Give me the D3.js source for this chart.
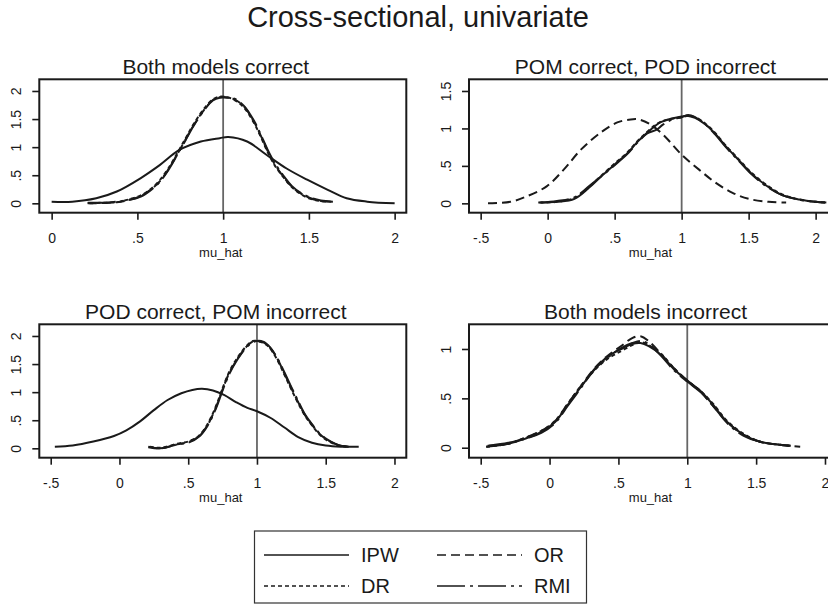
<!DOCTYPE html>
<html>
<head>
<meta charset="utf-8">
<script src="https://cdn.jsdelivr.net/npm/d3@7"></script>
<style>
  body { margin: 0; background: #fff; }
  text { font-family: "Liberation Sans", Arial, sans-serif; fill: #1a1a1a; }
</style>
</head>
<body>
<div id="chart"></div>
<script>
// kernel density curves, [mu_hat, density]
var mainTitle = "Cross-sectional, univariate";
var panelTitles = ["Both models correct", "POM correct, POD incorrect",
                   "POD correct, POM incorrect", "Both models incorrect"];
var seriesNames = ["IPW", "OR", "DR", "RMI"];

// panel 1: both models correct
var p1IPW = [[0,0.03],[0.12,0.03],[0.26,0.09],[0.38,0.21],[0.52,0.45],[0.63,0.68],[0.745,0.95],[0.87,1.10],[0.98,1.16],[1.03,1.18],[1.14,1.10],[1.25,0.87],[1.37,0.62],[1.49,0.42],[1.61,0.24],[1.72,0.09],[1.84,0.03],[2.0,0.0]];
var p1OR  = [[0.21,0.0],[0.3,0.005],[0.38,0.02],[0.45,0.06],[0.52,0.13],[0.58,0.25],[0.63,0.39],[0.68,0.6],[0.73,0.86],[0.78,1.13],[0.83,1.40],[0.89,1.67],[0.94,1.84],[0.98,1.89],[1.02,1.89],[1.06,1.86],[1.12,1.73],[1.18,1.45],[1.22,1.2],[1.26,0.93],[1.3,0.7],[1.35,0.48],[1.4,0.3],[1.45,0.18],[1.51,0.09],[1.57,0.04],[1.64,0.03]];
var p1DR  = [[0.22,0.0],[0.3,0.01],[0.38,0.02],[0.45,0.07],[0.52,0.14],[0.58,0.26],[0.63,0.41],[0.68,0.62],[0.73,0.88],[0.78,1.15],[0.83,1.42],[0.89,1.69],[0.94,1.85],[0.98,1.90],[1.02,1.89],[1.06,1.85],[1.12,1.71],[1.18,1.43],[1.22,1.18],[1.26,0.91],[1.3,0.68],[1.35,0.47],[1.4,0.29],[1.45,0.17],[1.51,0.08],[1.57,0.04],[1.63,0.03]];
var p1RMI = [[0.21,0.01],[0.3,0.01],[0.38,0.03],[0.45,0.06],[0.52,0.12],[0.58,0.24],[0.63,0.38],[0.68,0.59],[0.73,0.85],[0.78,1.12],[0.83,1.39],[0.89,1.66],[0.94,1.83],[0.98,1.88],[1.02,1.88],[1.06,1.87],[1.12,1.74],[1.18,1.47],[1.22,1.22],[1.26,0.95],[1.3,0.72],[1.35,0.5],[1.4,0.31],[1.45,0.19],[1.51,0.1],[1.57,0.05],[1.64,0.03]];

// panel 2: POM correct, POD incorrect
var p2IPW = [[-0.07,0.01],[0.07,0.02],[0.2,0.06],[0.31,0.21],[0.4,0.36],[0.5,0.52],[0.59,0.66],[0.67,0.82],[0.74,0.94],[0.8,1.03],[0.84,1.08],[0.92,1.13],[1.0,1.16],[1.04,1.17],[1.1,1.14],[1.18,1.05],[1.25,0.93],[1.33,0.76],[1.43,0.57],[1.52,0.4],[1.63,0.24],[1.75,0.11],[1.88,0.05],[2.0,0.02],[2.08,0.01]];
var p2OR  = [[-0.445,0.0],[-0.28,0.02],[-0.16,0.09],[-0.005,0.23],[0.12,0.45],[0.25,0.72],[0.4,0.95],[0.52,1.08],[0.62,1.12],[0.68,1.12],[0.76,1.06],[0.86,0.92],[1.0,0.65],[1.13,0.45],[1.25,0.28],[1.38,0.14],[1.5,0.06],[1.65,0.02],[1.78,0.01]];
var p2DR  = [[-0.06,0.01],[0.07,0.02],[0.2,0.07],[0.31,0.22],[0.4,0.37],[0.5,0.53],[0.59,0.67],[0.67,0.83],[0.74,0.95],[0.8,1.04],[0.86,1.1],[0.93,1.13],[1.0,1.15],[1.05,1.17],[1.1,1.15],[1.18,1.06],[1.25,0.94],[1.33,0.77],[1.43,0.58],[1.52,0.41],[1.63,0.25],[1.75,0.12],[1.88,0.05],[2.0,0.02],[2.08,0.01]];
var p2RMI = [[-0.05,0.01],[0.07,0.03],[0.2,0.08],[0.31,0.23],[0.4,0.36],[0.5,0.51],[0.59,0.65],[0.67,0.81],[0.74,0.93],[0.81,0.98],[0.86,1.05],[0.93,1.12],[1.0,1.15],[1.05,1.18],[1.1,1.15],[1.18,1.05],[1.25,0.92],[1.33,0.75],[1.43,0.56],[1.52,0.39],[1.63,0.23],[1.75,0.11],[1.88,0.05],[2.0,0.02],[2.07,0.01]];

// panel 3: POD correct, POM incorrect
var p3IPW = [[-0.47,0.03],[-0.34,0.05],[-0.19,0.12],[-0.04,0.22],[0.05,0.32],[0.15,0.48],[0.25,0.68],[0.35,0.86],[0.45,0.98],[0.53,1.04],[0.6,1.06],[0.68,1.03],[0.76,0.95],[0.85,0.82],[0.93,0.72],[1.0,0.66],[1.1,0.54],[1.2,0.37],[1.3,0.2],[1.4,0.1],[1.5,0.05],[1.61,0.03],[1.74,0.03]];
var p3OR  = [[0.21,0.03],[0.3,0.0],[0.42,0.07],[0.51,0.12],[0.58,0.22],[0.64,0.41],[0.7,0.72],[0.75,1.05],[0.8,1.35],[0.86,1.6],[0.92,1.8],[0.97,1.9],[1.03,1.9],[1.08,1.83],[1.14,1.63],[1.2,1.33],[1.25,1.07],[1.3,0.82],[1.35,0.59],[1.4,0.42],[1.45,0.27],[1.51,0.15],[1.57,0.08],[1.62,0.04],[1.66,0.03]];
var p3DR  = [[0.22,0.03],[0.3,0.01],[0.42,0.08],[0.51,0.13],[0.58,0.23],[0.64,0.43],[0.7,0.74],[0.75,1.07],[0.8,1.37],[0.86,1.62],[0.92,1.81],[0.97,1.91],[1.03,1.89],[1.08,1.82],[1.14,1.61],[1.2,1.31],[1.25,1.05],[1.3,0.8],[1.35,0.58],[1.4,0.41],[1.45,0.26],[1.51,0.14],[1.57,0.07],[1.62,0.04],[1.65,0.03]];
var p3RMI = [[0.21,0.02],[0.3,0.0],[0.42,0.07],[0.51,0.11],[0.58,0.21],[0.64,0.4],[0.7,0.7],[0.75,1.03],[0.8,1.33],[0.86,1.59],[0.92,1.79],[0.97,1.89],[1.03,1.91],[1.08,1.84],[1.14,1.64],[1.2,1.35],[1.25,1.09],[1.3,0.84],[1.35,0.6],[1.4,0.43],[1.45,0.28],[1.51,0.16],[1.57,0.08],[1.62,0.04],[1.67,0.03]];

// panel 4: both models incorrect
var p4IPW = [[-0.46,0.01],[-0.3,0.04],[-0.18,0.09],[-0.06,0.16],[0.04,0.26],[0.13,0.43],[0.23,0.62],[0.33,0.8],[0.42,0.92],[0.52,1.0],[0.6,1.05],[0.66,1.06],[0.72,1.03],[0.81,0.94],[0.9,0.8],[1.0,0.68],[1.1,0.57],[1.19,0.43],[1.29,0.26],[1.41,0.13],[1.53,0.06],[1.67,0.03],[1.75,0.02]];
var p4OR  = [[-0.45,0.02],[-0.3,0.04],[-0.18,0.1],[-0.06,0.17],[0.04,0.27],[0.13,0.44],[0.23,0.63],[0.33,0.81],[0.42,0.93],[0.52,1.03],[0.6,1.11],[0.66,1.13],[0.72,1.08],[0.81,0.95],[0.9,0.81],[1.0,0.68],[1.1,0.56],[1.19,0.42],[1.29,0.26],[1.41,0.13],[1.53,0.06],[1.67,0.03],[1.82,0.01]];
var p4DR  = [[-0.46,0.01],[-0.3,0.04],[-0.18,0.1],[-0.06,0.17],[0.04,0.27],[0.13,0.44],[0.23,0.63],[0.33,0.79],[0.42,0.9],[0.52,0.98],[0.6,1.04],[0.66,1.07],[0.72,1.04],[0.81,0.95],[0.9,0.81],[1.0,0.68],[1.1,0.57],[1.19,0.44],[1.29,0.27],[1.41,0.14],[1.53,0.06],[1.67,0.03],[1.76,0.02]];
var p4RMI = [[-0.44,0.02],[-0.3,0.05],[-0.18,0.09],[-0.06,0.15],[0.04,0.25],[0.13,0.42],[0.23,0.61],[0.33,0.8],[0.42,0.91],[0.52,1.01],[0.6,1.06],[0.66,1.08],[0.72,1.05],[0.81,0.93],[0.9,0.79],[1.0,0.67],[1.1,0.56],[1.19,0.42],[1.29,0.25],[1.41,0.12],[1.53,0.06],[1.67,0.03],[1.74,0.02]];

var panelSeries = [[p1IPW, p1OR, p1DR, p1RMI], [p2IPW, p2OR, p2DR, p2RMI],
                   [p3IPW, p3OR, p3DR, p3RMI], [p4IPW, p4OR, p4DR, p4RMI]];
var xTicks = [[0, 0.5, 1, 1.5, 2], [-0.5, 0, 0.5, 1, 1.5, 2],
              [-0.5, 0, 0.5, 1, 1.5, 2], [-0.5, 0, 0.5, 1, 1.5, 2]];
var yTicks = [[0, 0.5, 1, 1.5, 2], [0, 0.5, 1, 1.5],
              [0, 0.5, 1, 1.5, 2], [0, 0.5, 1]];
var xDomains = [[-0.072, 2.068], [-0.587, 2.152], [-0.583, 2.086], [-0.585, 2.08]];
var yDomains = [[-0.167, 2.208], [-0.125, 1.656], [-0.167, 2.208], [-0.101, 1.25]];
var refValue = 1;

var svgWidth = 828;
var svgHeight = 605;
var frameW = 367, frameH = 133.4;
var frameX = [39.3, 469, 39.3, 469];
var frameY = [79.3, 79.3, 324.3, 324.3];
var dashes = ["none", "9,5", "4,3", "28,5,3,5"];

var svg = d3.select("#chart")
  .append("svg")
  .attr("width", svgWidth)
  .attr("height", svgHeight);

svg.append("text")
  .attr("x", 418)
  .attr("y", 27)
  .attr("text-anchor", "middle")
  .style("font-size", "29px")
  .text(mainTitle);

var fmt = function(d) { return String(d).replace(/^(-?)0\./, "$1."); };

panelTitles.forEach(function(title, i) {
  var g = svg.append("g").attr("transform", "translate(" + frameX[i] + "," + frameY[i] + ")");

  var xScale = d3.scaleLinear().domain(xDomains[i]).range([0, frameW]);
  var yScale = d3.scaleLinear().domain(yDomains[i]).range([frameH, 0]);

  // panel title
  g.append("text")
    .attr("x", frameW / 2 - 7)
    .attr("y", -5)
    .attr("text-anchor", "middle")
    .style("font-size", "21px")
    .text(title);

  // x axis
  var xAxis = g.append("g")
    .attr("transform", "translate(0," + frameH + ")")
    .call(d3.axisBottom(xScale).tickValues(xTicks[i]).tickSize(7).tickFormat(fmt));
  xAxis.select(".domain").remove();
  xAxis.selectAll("line").attr("stroke", "#1a1a1a").attr("stroke-width", 1.6);
  xAxis.selectAll("text")
    .attr("y", 30).attr("dy", null)
    .attr("fill", "#1a1a1a")
    .style("font-size", "14px")
    .style("font-family", "'Liberation Sans', Arial, sans-serif");

  // y axis with rotated labels
  var yAxis = g.append("g")
    .call(d3.axisLeft(yScale).tickValues(yTicks[i]).tickSize(7).tickFormat(fmt));
  yAxis.select(".domain").remove();
  yAxis.selectAll("line").attr("stroke", "#1a1a1a").attr("stroke-width", 1.6);
  yAxis.selectAll("text")
    .attr("transform", "rotate(-90)")
    .attr("x", 0).attr("y", -18).attr("dy", null)
    .attr("text-anchor", "middle")
    .attr("fill", "#1a1a1a")
    .style("font-size", "14px")
    .style("font-family", "'Liberation Sans', Arial, sans-serif");

  g.append("text")
    .attr("x", frameW / 2 - 2)
    .attr("y", frameH + 44.5)
    .attr("text-anchor", "middle")
    .style("font-size", "13px")
    .text("mu_hat");

  // reference line at the true value
  g.append("line")
    .attr("x1", xScale(refValue)).attr("x2", xScale(refValue))
    .attr("y1", 0).attr("y2", frameH)
    .attr("stroke", "#666")
    .attr("stroke-width", 1.8);

  var line = d3.line()
    .x(function(d) { return xScale(d[0]); })
    .y(function(d) { return yScale(d[1]); })
    .curve(d3.curveCatmullRom);

  panelSeries[i].forEach(function(s, k) {
    g.append("path")
      .attr("d", line(s))
      .attr("fill", "none")
      .attr("stroke", "#1a1a1a")
      .attr("stroke-width", 2)
      .attr("stroke-dasharray", dashes[k]);
  });

  g.append("rect")
    .attr("width", frameW)
    .attr("height", frameH)
    .attr("fill", "none")
    .attr("stroke", "#1a1a1a")
    .attr("stroke-width", 2);
});

// legend
var legend = svg.append("g");
legend.append("rect")
  .attr("x", 254.5).attr("y", 531)
  .attr("width", 332).attr("height", 72)
  .attr("fill", "#fff")
  .attr("stroke", "#333")
  .attr("stroke-width", 1.2);

var legendPos = [[264, 555], [437, 555], [264, 586], [437, 586]];
seriesNames.forEach(function(name, k) {
  var p = legendPos[k];
  legend.append("line")
    .attr("x1", p[0]).attr("x2", p[0] + 85)
    .attr("y1", p[1]).attr("y2", p[1])
    .attr("stroke", "#1a1a1a")
    .attr("stroke-width", 1.7)
    .attr("stroke-dasharray", dashes[k]);
  legend.append("text")
    .attr("x", p[0] + 97)
    .attr("y", p[1] + 7)
    .style("font-size", "20px")
    .text(name);
});
</script>
</body>
</html>
